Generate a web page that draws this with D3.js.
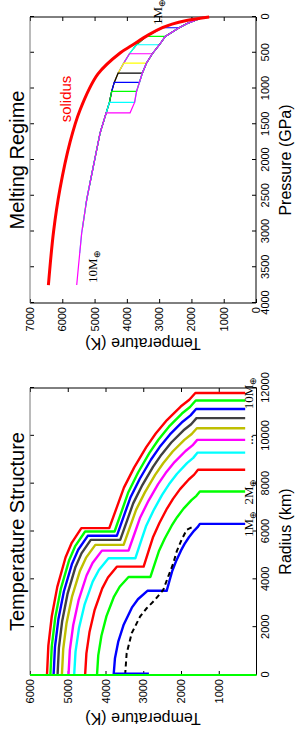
<!DOCTYPE html>
<meta charset="utf-8">
<html>
<head>
<script src="https://d3js.org/d3.v7.min.js"></script>
<style>
  body { margin: 0; background: #fff; }
  text { font-family: "Liberation Sans", Arial, sans-serif; }
</style>
</head>
<body>
<div id="chart"></div>
<script>
// ---- data ----
const masses = [1, 2, 3, 4, 5, 6, 7, 8, 9, 10];

// left panel: temperature vs radius, one colour per planet mass
const structColors = ["#0000ff", "#00ff00", "#ff0000", "#00ffff", "#ff00ff",
                      "#bfbf00", "#404040", "#0000ff", "#00ff00", "#ff0000"];

// core part, [radius km, temperature K]
const coreProfiles = [
  [[0,3785],[704,3749],[1408,3660],[2112,3516],[2816,3302],[3168,3141],[3520,2890]],
  [[0,4225],[820,4192],[1640,4108],[2460,3974],[3280,3774],[3690,3624],[4100,3390]],
  [[0,4540],[906,4506],[1812,4422],[2718,4288],[3624,4086],[4077,3935],[4530,3700]],
  [[0,4830],[976,4794],[1952,4703],[2928,4557],[3904,4339],[4392,4175],[4880,3920]],
  [[0,4980],[1040,4945],[2080,4856],[3120,4714],[4160,4502],[4680,4343],[5200,4095]],
  [[0,5155],[1088,5120],[2176,5031],[3264,4889],[4352,4677],[4896,4518],[5440,4270]],
  [[0,5270],[1130,5235],[2260,5147],[3390,5006],[4520,4795],[5085,4636],[5650,4390]],
  [[0,5375],[1164,5339],[2328,5248],[3492,5103],[4656,4886],[5238,4723],[5820,4470]],
  [[0,5460],[1200,5423],[2400,5331],[3600,5184],[4800,4963],[5400,4798],[6000,4540]],
  [[0,5550],[1228,5514],[2456,5423],[3684,5277],[4912,5059],[5526,4895],[6140,4640]]
];

// mantle part, [radius km, temperature K]
const mantleProfiles = [
  [[3520,2380],[3940,2305],[4360,2230],[4780,2125],[5200,2002],[5480,1905],[5760,1790],[6040,1650],[6180,1562],[6320,1500]],
  [[4100,2810],[4636,2699],[5171,2587],[5707,2430],[6242,2247],[6599,2103],[6956,1932],[7313,1723],[7492,1592],[7670,1500]],
  [[4530,2990],[5138,2868],[5745,2745],[6353,2572],[6960,2371],[7365,2212],[7770,2025],[8175,1795],[8378,1651],[8580,1550]],
  [[4880,3210],[5543,3070],[6206,2930],[6869,2732],[7532,2501],[7974,2319],[8416,2105],[8858,1841],[9079,1676],[9300,1560]],
  [[5200,3390],[5895,3235],[6589,3081],[7284,2862],[7978,2607],[8441,2407],[8904,2171],[9367,1879],[9599,1697],[9830,1570]],
  [[5440,3520],[6172,3355],[6904,3190],[7636,2957],[8368,2686],[8856,2472],[9344,2220],[9832,1910],[10076,1716],[10320,1580]],
  [[5650,3610],[6414,3438],[7177,3267],[7941,3024],[8704,2741],[9213,2519],[9722,2257],[10231,1933],[10486,1731],[10740,1590]],
  [[5820,3700],[6615,3522],[7410,3343],[8205,3091],[9000,2797],[9530,2566],[10060,2293],[10590,1957],[10855,1747],[11120,1600]],
  [[6000,3760],[6822,3577],[7644,3395],[8466,3137],[9288,2836],[9836,2599],[10384,2320],[10932,1976],[11206,1761],[11480,1610]],
  [[6140,3900],[6988,3706],[7835,3512],[8683,3239],[9530,2920],[10095,2669],[10660,2372],[11225,2008],[11508,1780],[11790,1620]]
];
const surfaceT = 300;

// dashed reference profile
const earthProfile = [[0,3480],[900,3440],[1750,3305],[2440,3085],[2790,2910],[3140,2690],[3560,2470],
  [4110,2340],[4670,2205],[5160,2115],[5650,1985],[6070,1850],[6200,1680]];

// traces lying on the r = 0 edge
const centreGreenT = [0, 6000];
const centreBlueT = [2850, 3785];

const radiusTicks = [0, 2000, 4000, 6000, 8000, 10000, 12000];
const tempTicks1 = [1000, 2000, 3000, 4000, 5000, 6000];

// right panel: temperature vs pressure
const meltColors = ["#0000ff", "#00ff00", "#00ffff", "#ff00ff", "#ffff00",
                    "#000000", "#0000ff", "#00ff00", "#00ffff", "#ff00ff"];
const cmbP = [150, 271, 388, 514, 644, 784, 915, 1041, 1195, 1340];      // GPa
const centreP = [436, 748, 1195, 1625, 1958, 2353, 2633, 2949, 3305, 3748]; // GPa
// [pressure GPa, temperature K]
const mantleAdiabat = [[0,1620],[40,1850],[90,2130],[150,2380],[271,2810],[388,2990],[514,3210],
  [644,3390],[784,3520],[915,3610],[1041,3700],[1195,3760],[1340,3900]];
const coreAdiabat = [[150,2890],[271,3390],[388,3700],[436,3785],[514,3920],[644,4095],[748,4225],
  [784,4270],[915,4390],[1041,4470],[1195,4540],[1340,4640],[1625,4830],[1958,4980],[2092,5040],
  [2353,5155],[2558,5245],[2633,5270],[2949,5375],[3024,5400],[3305,5460],[3492,5500],[3748,5553]];
const solidus = [[0,1450],[50,2150],[100,2600],[150,2900],[250,3330],[400,3850],[500,4200],
  [800,4900],[1300,5450],[1750,5760],[2400,6070],[3000,6270],[3750,6430]];

const pressureTicks = [0, 500, 1000, 1500, 2000, 2500, 3000, 3500, 4000];
const tempTicks2 = [0, 1000, 2000, 3000, 4000, 5000, 6000, 7000];

// ---- drawing: the figure is laid out landscape and turned a quarter turn ----
const W = 300, H = 730;
const svg = d3.select("#chart").append("svg")
    .attr("width", W).attr("height", H);
const g = svg.append("g")
    .attr("transform", `translate(0,${H}) rotate(-90)`);

const x1 = d3.scaleLinear().domain([0, 12000]).range([55, 342]);
const y1 = d3.scaleLinear().domain([0, 6000]).range([256.5, 30]);
const x2 = d3.scaleLinear().domain([0, 4000]).range([713, 427]);
const y2 = d3.scaleLinear().domain([0, 7000]).range([256, 30]);

const fmt = d3.format("d");

function frame(x, y, xTicks, yTicks) {
  const xl = d3.min(x.range()), xr = d3.max(x.range());
  const yb = y.range()[0], yt = y.range()[1];
  const style = a => a.attr("font-size", 11)
      .attr("font-family", "Liberation Sans, Arial, sans-serif")
      .call(s => s.select(".domain").remove());
  g.append("g").attr("transform", `translate(0,${yb})`)
    .call(d3.axisBottom(x).tickValues(xTicks).tickFormat(fmt).tickSize(-4).tickSizeOuter(0).tickPadding(5))
    .call(style);
  g.append("g").attr("transform", `translate(0,${yt})`)
    .call(d3.axisTop(x).tickValues(xTicks).tickSize(-4).tickSizeOuter(0).tickFormat(""))
    .call(style);
  g.append("g").attr("transform", `translate(${xl},0)`)
    .call(d3.axisLeft(y).tickValues(yTicks).tickFormat(fmt).tickSize(-4).tickSizeOuter(0).tickPadding(4))
    .call(style);
  g.append("g").attr("transform", `translate(${xr},0)`)
    .call(d3.axisRight(y).tickValues(yTicks).tickSize(-4).tickSizeOuter(0).tickFormat(""))
    .call(style);
  // box
  g.append("line").attr("x1", xl).attr("x2", xr).attr("y1", yb).attr("y2", yb).attr("stroke", "#000");
  g.append("line").attr("x1", xl).attr("x2", xl).attr("y1", yb).attr("y2", yt).attr("stroke", "#000");
  g.append("line").attr("x1", xr).attr("x2", xr).attr("y1", yb).attr("y2", yt).attr("stroke", "#000");
  g.append("line").attr("x1", xl).attr("x2", xr).attr("y1", yt).attr("y2", yt).attr("stroke", "#777");
}

function addMassText(u, v, anchor, size, num) {
  const t = g.append("text")
      .attr("x", u).attr("y", v)
      .attr("text-anchor", anchor)
      .style("font-family", "'Liberation Serif', 'Times New Roman', serif")
      .attr("font-size", size);
  t.append("tspan").text(num + "M");
  t.append("tspan").attr("dy", 3).attr("font-size", size * 0.7).text("\u2295");
}

// ---------- left panel: Temperature Structure ----------
frame(x1, y1, radiusTicks, tempTicks1);

const line1 = d3.line().x(d => x1(d[0])).y(d => y1(d[1]));
masses.forEach((m, i) => {
  const mantle = mantleProfiles[i];
  const rs = mantle[mantle.length - 1][0];
  const pts = coreProfiles[i].concat(mantle, [[rs, surfaceT]]);
  g.append("path")
    .attr("d", line1(pts))
    .attr("fill", "none")
    .attr("stroke", structColors[i])
    .attr("stroke-width", 2.4)
    .attr("stroke-linejoin", "round");
});

g.append("path")
  .attr("d", line1(earthProfile))
  .attr("fill", "none")
  .attr("stroke", "#000")
  .attr("stroke-width", 2)
  .attr("stroke-dasharray", "5,3.5");

g.append("path")
  .attr("d", line1(centreBlueT.map(t => [60, t])))
  .attr("stroke", "#0000ff").attr("stroke-width", 2.2);
g.append("path")
  .attr("d", line1(centreGreenT.map(t => [0, t])))
  .attr("stroke", "#00ff00").attr("stroke-width", 2.2);

addMassText(x1(6320), 253, "middle", 13, "1");
addMassText(x1(7670), 253, "middle", 13, "2");
addMassText(x1(11790), 253, "middle", 13, "10");
g.append("text").attr("x", x1(9830)).attr("y", 253).attr("text-anchor", "middle")
  .style("font-family", "'Liberation Serif', serif").attr("font-size", 13).text("...");

g.append("text").attr("x", (x1.range()[0] + x1.range()[1]) / 2).attr("y", 24)
  .attr("text-anchor", "middle").attr("font-size", 20).text("Temperature Structure");
g.append("text").attr("x", (x1.range()[0] + x1.range()[1]) / 2).attr("y", 291)
  .attr("text-anchor", "middle").attr("font-size", 16).text("Radius (km)");
g.append("text").attr("transform", `translate(17,143) rotate(-90)`)
  .attr("text-anchor", "middle").attr("font-size", 16).text("Temperature (K)");

// ---------- right panel: Melting Regime ----------
frame(x2, y2, pressureTicks, tempTicks2);

const line2 = d3.line().x(d => x2(d[0])).y(d => y2(d[1]));
masses.forEach((m, i) => {
  const mantle = mantleAdiabat.filter(d => d[0] <= cmbP[i]);
  const core = coreAdiabat.filter(d => d[0] >= cmbP[i] && d[0] <= centreP[i]);
  g.append("path")
    .attr("d", line2(mantle.concat(core)))
    .attr("fill", "none")
    .attr("stroke", meltColors[i])
    .attr("stroke-width", 1.2);
});

g.append("path")
  .attr("d", line2.curve(d3.curveCatmullRom)(solidus))
  .attr("fill", "none")
  .attr("stroke", "#ff0000")
  .attr("stroke-width", 3);

g.append("text").attr("x", 631).attr("y", 71).attr("text-anchor", "middle")
  .attr("font-size", 15).attr("fill", "#ff0000").text("solidus");
addMassText(447, 97, "start", 13, "10");
addMassText(705, 162, "start", 13, "1");

g.append("text").attr("x", (x2.range()[0] + x2.range()[1]) / 2).attr("y", 24)
  .attr("text-anchor", "middle").attr("font-size", 20).text("Melting Regime");
g.append("text").attr("x", (x2.range()[0] + x2.range()[1]) / 2).attr("y", 291)
  .attr("text-anchor", "middle").attr("font-size", 16).text("Pressure (GPa)");
g.append("text").attr("transform", `translate(392,143) rotate(-90)`)
  .attr("text-anchor", "middle").attr("font-size", 16).text("Temperature (K)");
</script>
</body>
</html>
